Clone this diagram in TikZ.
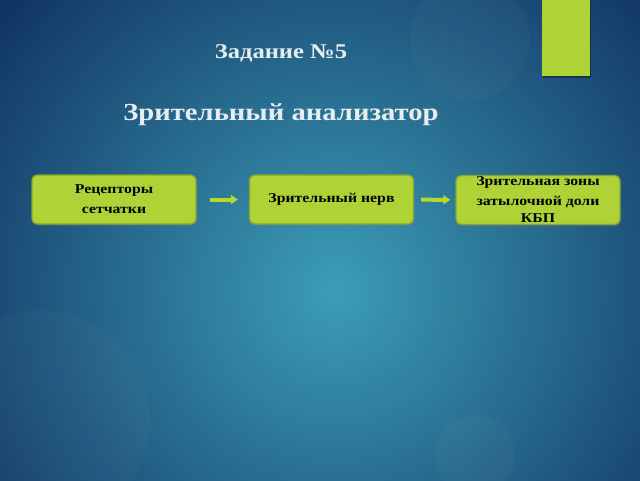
\documentclass[tikz,border=0pt]{standalone}
\usepackage{fontspec}
\setmainfont[FakeStretch=1.17]{Liberation Serif}
\usetikzlibrary{arrows.meta,shadows}
\definecolor{bgin}{HTML}{3C9EB6}
\definecolor{bgout}{HTML}{0E2C5C}
\definecolor{boxgreen}{HTML}{AFD236}
\definecolor{boxedge}{HTML}{86A52C}
\definecolor{titlecol}{HTML}{E6EDF1}
\tikzset{
  stepbox/.style={draw=boxedge, line width=1.3pt, fill=boxgreen, rounded corners=5pt,
    minimum width=164pt, minimum height=49pt, inner sep=1pt, align=center,
    font=\bfseries\fontsize{13.5}{20}\selectfont, text=black,
    drop shadow={shadow xshift=1pt, shadow yshift=-1.5pt, opacity=0.35}},
  flow/.style={draw=boxgreen!90!yellow, line width=4pt,
    -{Triangle[length=7pt,width=9pt]}},
  titletxt/.style={text=titlecol, font=\bfseries}
}
\begin{document}
\begin{tikzpicture}[x=1pt,y=-1pt]
\useasboundingbox (0,0) rectangle (640,480);
\begin{scope}
\clip (0,0) rectangle (640,480);
\fill[bgout] (0,0) rectangle (640,480);
\shade[inner color=bgin, outer color=bgout] (335,290) circle (470);
\fill[white, opacity=0.025] (40,420) circle (110);
\fill[white, opacity=0.025] (470,40) circle (60);
\fill[white, opacity=0.03] (475,455) circle (40);
\end{scope}
\fill[black, opacity=0.35] (543,2) rectangle (591,78);
\fill[boxgreen] (542,0) rectangle (590,76);
\node[titletxt, font=\bfseries\fontsize{21}{25}\selectfont] (t1) at (281,53) {Задание №5};
\node[titletxt, font=\bfseries\fontsize{24.5}{29}\selectfont] (t2) at (281,115) {Зрительный анализатор};
\node[stepbox] (b1) at (114,199.5) {Рецепторы\\сетчатки};
\node[stepbox, font=\bfseries\fontsize{13.5}{20}\selectfont] (b2) at (331.5,199.5) {Зрительный нерв};
\node[stepbox, font=\bfseries\fontsize{13.5}{20}\selectfont] (b3) at (538,200) {Зрительная зоны\\затылочной доли\\[-3pt]КБП};
\draw[flow, shorten <=13pt, shorten >=11pt] (b1) -- (b2);
\draw[flow, shorten <=7pt, shorten >=5pt] (b2) -- (b3);
\end{tikzpicture}
\end{document}
